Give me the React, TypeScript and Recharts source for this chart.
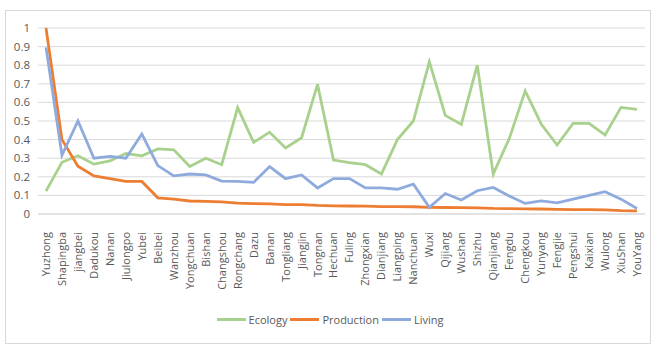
import { LineChart, Line, XAxis, YAxis, CartesianGrid } from 'recharts'

const districts = [
  'Yuzhong', 'Shapingba', 'jiangbei', 'Dadukou', 'Nanan', 'Jiulongpo', 'Yubei', 'Beibei',
  'Wanzhou', 'Yongchuan', 'Bishan', 'Changshou', 'Rongchang', 'Dazu', 'Banan', 'Tongliang',
  'Jiangjin', 'Tongnan', 'Hechuan', 'Fuling', 'Zhongxian', 'Dianjiang', 'Liangping', 'Nanchuan',
  'Wuxi', 'Qijiang', 'Wushan', 'Shizhu', 'Qianjiang', 'Fengdu', 'Chengkou', 'Yunyang',
  'Fengjie', 'Pengshui', 'Kaixian', 'Wulong', 'XiuShan', 'YouYang',
]

const ecology = [
  0.123, 0.278, 0.313, 0.268, 0.285, 0.325, 0.313, 0.35,
  0.345, 0.255, 0.3, 0.265, 0.572, 0.385, 0.44, 0.355,
  0.41, 0.697, 0.29, 0.276, 0.265, 0.215, 0.4, 0.5,
  0.818, 0.53, 0.482, 0.8, 0.215, 0.405, 0.662, 0.484,
  0.371, 0.487, 0.487, 0.425, 0.573, 0.563,
]

const production = [
  1.0, 0.4, 0.257, 0.205, 0.19, 0.175, 0.175, 0.087,
  0.08, 0.07, 0.068, 0.065, 0.058, 0.056, 0.054, 0.05,
  0.05, 0.046, 0.044, 0.043, 0.042, 0.04, 0.04, 0.039,
  0.036, 0.035, 0.034, 0.033, 0.03, 0.029, 0.028, 0.027,
  0.025, 0.024, 0.023, 0.022, 0.018, 0.017,
]

const living = [
  0.896, 0.316, 0.5, 0.3, 0.31, 0.3, 0.43, 0.26,
  0.205, 0.215, 0.21, 0.177, 0.175, 0.17, 0.255, 0.19,
  0.21, 0.14, 0.19, 0.19, 0.14, 0.14, 0.133, 0.16,
  0.036, 0.11, 0.075, 0.125, 0.143, 0.097, 0.057, 0.07,
  0.06, 0.08, 0.1, 0.12, 0.08, 0.03,
]

const yTicks = [0, 0.1, 0.2, 0.3, 0.4, 0.5, 0.6, 0.7, 0.8, 0.9, 1]

const series = [
  { key: 'Ecology', color: '#a9d18e' },
  { key: 'Production', color: '#ed7d31' },
  { key: 'Living', color: '#8faadc' },
]

const data = districts.map((name, i) => ({
  name,
  Ecology: ecology[i],
  Production: production[i],
  Living: living[i],
}))

const FONT = '"Open Sans", "Liberation Sans", sans-serif'

function DistrictTick({ x, y, payload }: any) {
  return (
    <g transform={`translate(${x},${y + 10})`}>
      <text transform="rotate(-90)" textAnchor="end" dy="0.36em" fontSize={11} fill="#595959" fontFamily={FONT}>
        {payload.value}
      </text>
    </g>
  )
}

export default function App() {
  return (
    <div style={{ position: 'absolute', left: 0, top: 0, width: 655, height: 344, background: '#fff' }}>
      <div style={{ position: 'absolute', left: 5, top: 10, width: 644, height: 332, border: '1px solid #d9d9d9' }} />
      <LineChart width={655} height={344} data={data} margin={{ top: 28, right: 10, left: 0, bottom: 30 }}>
        <CartesianGrid vertical={false} stroke="#d9d9d9" />
        <XAxis
          dataKey="name"
          interval={0}
          tick={<DistrictTick />}
          tickLine={false}
          axisLine={{ stroke: '#d9d9d9' }}
          height={100}
          padding={{ left: 8, right: 8 }}
        />
        <YAxis
          domain={[0, 1]}
          ticks={yTicks}
          interval={0}
          width={38}
          axisLine={false}
          tickLine={false}
          tick={{ fontSize: 11.5, fill: '#595959', fontFamily: FONT }}
        />
        {series.map((s) => (
          <Line
            key={s.key}
            dataKey={s.key}
            stroke={s.color}
            strokeWidth={2.8}
            dot={false}
            type="linear"
            isAnimationActive={false}
          />
        ))}
      </LineChart>
      <div
        style={{
          position: 'absolute', left: 0, top: 312, width: 655, display: 'flex', justifyContent: 'center',
          fontFamily: FONT, fontSize: 11, color: '#595959', paddingLeft: 8, boxSizing: 'border-box',
        }}
      >
        {series.map((s) => (
          <div key={s.key} style={{ display: 'flex', alignItems: 'center', marginRight: 3 }}>
            <div style={{ width: 29, height: 3, background: s.color, marginRight: 3 }} />
            <span>{s.key}</span>
          </div>
        ))}
      </div>
    </div>
  )
}
